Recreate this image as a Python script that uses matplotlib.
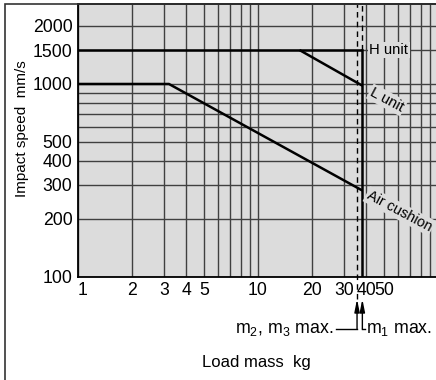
import numpy as np
import matplotlib.pyplot as plt
from matplotlib.patches import Rectangle
from matplotlib.ticker import NullFormatter

plt.rcParams['font.family'] = ['Liberation Sans', 'DejaVu Sans']
plt.rcParams['mathtext.fontset'] = 'custom'
plt.rcParams['mathtext.rm'] = 'Liberation Sans'
plt.rcParams['mathtext.it'] = 'Liberation Sans:italic'

# load mass (kg) -> max impact speed (mm/s)
h_mass = [1, 38]
h_speed = [1500, 1500]
l_mass = [17, 38]
l_speed = [1500, 980]
air_mass = [1, 3.2, 38]
air_speed = [1000, 1000, 280]

m1_max = 38
m23_max = 35.5

xticks = [1, 2, 3, 4, 5, 10, 20, 30, 40, 50]
xminor = [6, 7, 8, 9, 60, 70, 80, 90]
yticks = [100, 200, 300, 400, 500, 1000, 1500, 2000]
yminor = [600, 700, 800, 900]

W, H = 436, 380
fig = plt.figure(figsize=(W / 100, H / 100), dpi=100)
ax = fig.add_axes([78 / W, (H - 276.7) / H, 360 / W, 272.7 / H])
ax.set_facecolor('#dcdcdc')
ax.set_xscale('log')
ax.set_yscale('log')
ax.set_xlim(1, 100)
ax.set_ylim(100, 2600)

ax.set_xticks(xticks)
ax.set_xticklabels([str(t) for t in xticks])
ax.set_xticks(xminor, minor=True)
ax.set_yticks(yticks)
ax.set_yticklabels([str(t) for t in yticks])
ax.set_yticks(yminor, minor=True)
ax.xaxis.set_minor_formatter(NullFormatter())
ax.yaxis.set_minor_formatter(NullFormatter())
ax.tick_params(which='both', length=0, labelsize=12.7)
ax.tick_params(axis='x', pad=4)
ax.tick_params(axis='y', pad=4)
ax.get_xticklabels()[0].set_ha('left')
ax.grid(True, which='both', color='#404040', lw=1.0)
ax.set_axisbelow(True)
for s in ['top', 'left', 'bottom']:
    ax.spines[s].set_linewidth(1.3)
ax.spines['right'].set_visible(False)

lw = 1.8
ax.plot(h_mass, h_speed, color='k', lw=lw, solid_capstyle='butt')
ax.plot(l_mass, l_speed, color='k', lw=lw, solid_capstyle='butt')
ax.plot(air_mass, air_speed, color='k', lw=lw, solid_capstyle='butt')

# max load lines
ymin, ymax = ax.get_ylim()
ax.plot([m1_max, m1_max], [ymin, h_speed[-1]], color='k', lw=lw)
ax.plot([m1_max, m1_max], [h_speed[-1], ymax], color='k', lw=1.0, ls=(0, (4, 3)))
xt = ax.get_xaxis_transform()
ax.plot([m23_max, m23_max], [-0.082, 1], color='k', lw=1.0, ls=(0, (4, 3)),
        transform=xt, clip_on=False)

aprops = dict(arrowstyle='-|>,head_length=0.75,head_width=0.15', color='k',
              lw=1.0, shrinkA=0, shrinkB=0, mutation_scale=10)
for m in [m23_max, m1_max]:
    ax.annotate('', xy=(m, -0.082), xytext=(m, -0.192),
                xycoords=xt, textcoords=xt, arrowprops=aprops,
                annotation_clip=False)
ax.plot([27, m23_max], [-0.192, -0.192], color='k', lw=1.0, transform=xt, clip_on=False)
ax.plot([m1_max, 39.4], [-0.192, -0.192], color='k', lw=1.0, transform=xt, clip_on=False)
ax.text(26.3, -0.192, 'm$_2$, m$_3$ max.', transform=xt, ha='right', va='center',
        fontsize=12.8, clip_on=False)
ax.text(39.6, -0.192, 'm$_1$ max.', transform=xt, ha='left', va='center',
        fontsize=12.8, clip_on=False)

box = dict(facecolor='#dcdcdc', edgecolor='none', pad=1)
ax.text(41.5, 1500, 'H unit', ha='left', va='center', fontsize=10.7, bbox=box)
ax.text(52, 826, 'L unit', ha='center', va='center', fontsize=10.7,
        rotation=-28, rotation_mode='anchor', bbox=box)
ax.text(61, 219, 'Air cushion', ha='center', va='center', fontsize=10.4,
        rotation=-28, rotation_mode='anchor', bbox=box)

fig.text(22 / W, 1 - 129 / H, 'Impact speed  mm/s', rotation=90,
         ha='center', va='center', fontsize=11)
fig.text(256 / W, 1 - 363 / H, 'Load mass  kg', ha='center', va='center', fontsize=12)

fig.add_artist(Rectangle((4.5 / W, -0.5), 2, 1.5 - 4.3 / H, transform=fig.transFigure,
                         fill=False, ec='#333333', lw=1.2))

fig.savefig('out.png', dpi=100)
